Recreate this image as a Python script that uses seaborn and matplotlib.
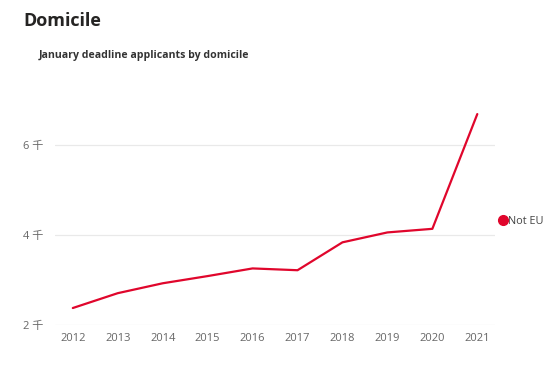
import matplotlib
matplotlib.use("Agg")
from matplotlib import pyplot as plt
from matplotlib.lines import Line2D
import seaborn as sns
import pandas as pd

years = [2012, 2013, 2014, 2015, 2016, 2017, 2018, 2019, 2020, 2021]
not_eu = [2.38, 2.71, 2.93, 3.09, 3.26, 3.22, 3.84, 4.06, 4.14, 6.69]
y_ticks = [2, 4, 6]
y_tick_labels = ["2 千", "4 千", "6 千"]
series_name = "Not EU"

red = "#E0062C"
grey = "#666666"

sns.set_style("white")
plt.rcParams["font.family"] = ["Open Sans", "Noto Sans CJK SC", "DejaVu Sans"]

df = pd.DataFrame({"year": years, "applicants": not_eu})

fig = plt.figure(figsize=(5.54, 3.75), dpi=100)
ax = fig.add_axes([0.099, 0.133, 0.795, 0.60])

sns.lineplot(data=df, x="year", y="applicants", ax=ax, color=red, linewidth=1.6)

ax.set_xlim(2011.6, 2021.4)
ax.set_ylim(2, 7.0)
ax.set_xticks(years)
ax.set_xticklabels([str(y) for y in years], color=grey, fontsize=8)
ax.set_yticks(y_ticks)
ax.set_yticklabels(y_tick_labels, color=grey, fontsize=8)
ax.tick_params(axis="x", length=0, pad=6)
ax.tick_params(axis="y", length=0, pad=8)
ax.grid(axis="y", color="#E9E9E9", linewidth=0.9)
ax.set_axisbelow(True)
for s in ax.spines.values():
    s.set_visible(False)
ax.set_xlabel("")
ax.set_ylabel("")

handle = Line2D([], [], marker="o", color=red, linestyle="", markersize=7)
ax.legend(handles=[handle], labels=[series_name], frameon=False, loc="center left",
          bbox_to_anchor=(0.995, 0.462), handletextpad=0.0, fontsize=7.8,
          labelcolor="#444444", handlelength=1.0, borderaxespad=0)

fig.text(0.043, 0.945, "Domicile", fontsize=13, fontweight="bold", color="#252423", va="center")
fig.text(0.069, 0.853, "January deadline applicants by domicile", fontsize=7.6,
         fontweight="bold", color="#333333", va="center")

fig.savefig("out.png", dpi=100)
